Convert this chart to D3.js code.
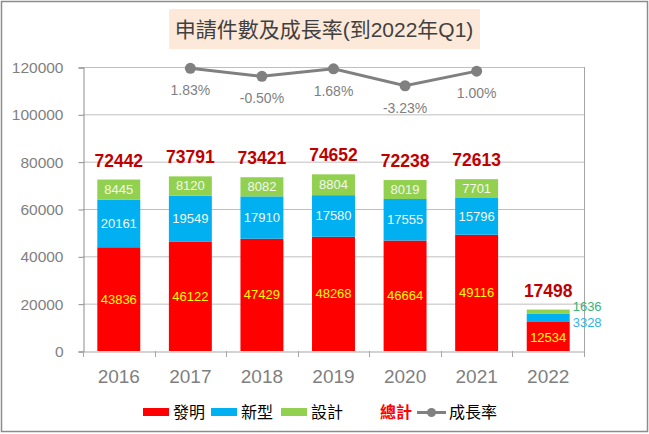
<!DOCTYPE html>
<html>
<head>
<meta charset="utf-8">
<script src="https://cdn.jsdelivr.net/npm/d3@7"></script>
<style>
  body { margin: 0; background: #fff; }
  text { font-family: "Liberation Sans", Arial, "Noto Sans CJK TC", sans-serif; }
  .cjk { font-family: "Liberation Sans", "Noto Sans CJK TC", sans-serif; }
</style>
</head>
<body>
<div id="chart"></div>
<script>
// chart values
const years = ["2016", "2017", "2018", "2019", "2020", "2021", "2022"];
const invention = [43836, 46122, 47429, 48268, 46664, 49116, 12534];   // 發明
const utility = [20161, 19549, 17910, 17580, 17555, 15796, 3328];       // 新型
const design = [8445, 8120, 8082, 8804, 8019, 7701, 1636];              // 設計
const totals = [72442, 73791, 73421, 74652, 72238, 72613, 17498];       // 總計
const growthYears = ["2017", "2018", "2019", "2020", "2021"];
const growth = [1.83, -0.50, 1.68, -3.23, 1.00];                        // 成長率 (%)
const yTicks = [0, 20000, 40000, 60000, 80000, 100000, 120000];

const w = 649, h = 434;
const margin = { top: 67, right: 65, bottom: 83, left: 83 };

const svg = d3.select("#chart")
    .append("svg")
    .attr("width", w)
    .attr("height", h);

// outer frame
svg.append("rect")
    .attr("x", 1.5).attr("y", 1.5)
    .attr("width", w - 3).attr("height", h - 4)
    .attr("fill", "#fff")
    .attr("stroke", "#8c8c8c")
    .attr("stroke-width", 1.5);

// title
svg.append("rect")
    .attr("x", 169).attr("y", 9)
    .attr("width", 311).attr("height", 40)
    .attr("fill", "#fde9d9");

svg.append("text")
    .attr("x", 324).attr("y", 37)
    .attr("text-anchor", "middle")
    .attr("class", "cjk")
    .style("font-size", "21px")
    .attr("fill", "#404040")
    .text("申請件數及成長率(到2022年Q1)");

// scales
const x = d3.scaleBand()
    .domain(years)
    .range([margin.left, w - margin.right])
    .paddingInner(0.4)
    .paddingOuter(0.2);

const y = d3.scaleLinear()
    .domain([0, 120000])
    .range([h - margin.bottom, margin.top]);

// hidden secondary axis for the growth rate
const y2 = d3.scaleLinear()
    .domain([-80, 2.2])
    .range([h - margin.bottom, margin.top]);

// gridlines
svg.append("g")
    .selectAll("line")
    .data(yTicks.filter(d => d > 0))
    .join("line")
    .attr("x1", margin.left).attr("x2", w - margin.right)
    .attr("y1", d => y(d) + 0.5).attr("y2", d => y(d) + 0.5)
    .attr("stroke", "#bfbfbf");

// right border of plot area
svg.append("line")
    .attr("x1", w - margin.right + 0.5).attr("x2", w - margin.right + 0.5)
    .attr("y1", margin.top).attr("y2", h - margin.bottom + 6)
    .attr("stroke", "#a6a6a6");

// y axis
const yAxis = d3.axisLeft(y)
    .tickValues(yTicks)
    .tickSize(5)
    .tickPadding(15)
    .tickFormat(d3.format("d"));

const gy = svg.append("g")
    .attr("transform", `translate(${margin.left + 0.5}, 0.5)`)
    .call(yAxis);
gy.select(".domain").attr("stroke", "#8c8c8c");
gy.selectAll(".tick line").attr("stroke", "#8c8c8c");
gy.selectAll("text")
    .style("font-size", "15.5px")
    .attr("fill", "#7f7f7f");

// x axis
const gx = svg.append("g")
    .attr("transform", `translate(0, ${h - margin.bottom + 0.5})`)
    .call(d3.axisBottom(x).tickSize(0).tickPadding(18));
gx.select(".domain").attr("stroke", "#a6a6a6");
gx.selectAll("text")
    .style("font-size", "19px")
    .attr("fill", "#7f7f7f");

// category boundary ticks
const gap = (x.step() - x.bandwidth()) / 2;
const bounds = years.map(d => x(d) - gap).concat([x(years[years.length - 1]) + x.bandwidth() + gap]);
svg.append("g")
    .selectAll("line")
    .data(bounds)
    .join("line")
    .attr("x1", d => Math.round(d) + 0.5).attr("x2", d => Math.round(d) + 0.5)
    .attr("y1", h - margin.bottom).attr("y2", h - margin.bottom + 6)
    .attr("stroke", "#a6a6a6");

// stacked bars
const rows = years.map((d, i) => ({ year: d, invention: invention[i], utility: utility[i], design: design[i] }));
const keys = ["invention", "utility", "design"];
const colors = { invention: "#ff0000", utility: "#00b0f0", design: "#92d050" };
const stack = d3.stack().keys(keys)(rows);

svg.append("g")
    .selectAll("g")
    .data(stack)
    .join("g")
    .attr("fill", s => colors[s.key])
    .selectAll("rect")
    .data(s => s)
    .join("rect")
    .attr("x", d => x(d.data.year))
    .attr("width", x.bandwidth())
    .attr("y", d => y(d[1]))
    .attr("height", d => y(d[0]) - y(d[1]));

// segment labels (2022 small segments are labelled beside the bar)
const labelColors = { invention: "#ffff00", utility: "#f4f7f0", design: "#f4f7f0" };
const last = years.length - 1;
stack.forEach(s => {
    const beside = i => i === last && s.key !== "invention";
    svg.append("g")
        .selectAll("text")
        .data(s)
        .join("text")
        .attr("x", (d, i) => beside(i)
            ? x(d.data.year) + x.bandwidth() + 3
            : x(d.data.year) + x.bandwidth() / 2)
        .attr("y", (d, i) => {
            const mid = (y(d[0]) + y(d[1])) / 2;
            if (i === last && s.key === "design") return mid - 1;
            if (i === last && s.key === "utility") return mid + 10;
            if (i === last) return mid + 6;
            return mid + 4.5;
        })
        .attr("text-anchor", (d, i) => beside(i) ? "start" : "middle")
        .style("font-size", "13px")
        .attr("fill", (d, i) => {
            if (i === last && s.key === "design") return "#3cb371";
            if (i === last && s.key === "utility") return "#2fb4ea";
            return labelColors[s.key];
        })
        .text(d => d.data[s.key]);
});

// totals
svg.append("g")
    .selectAll("text")
    .data(totals)
    .join("text")
    .attr("x", (d, i) => x(years[i]) + x.bandwidth() / 2)
    .attr("y", d => y(d) - 13)
    .attr("text-anchor", "middle")
    .style("font-size", "17.5px")
    .style("font-weight", "bold")
    .attr("fill", "#c00000")
    .text(d => d);

// growth line
const line = d3.line()
    .x((d, i) => x(growthYears[i]) + x.bandwidth() / 2)
    .y(d => y2(d));

svg.append("path")
    .datum(growth)
    .attr("fill", "none")
    .attr("stroke", "#808080")
    .attr("stroke-width", 3)
    .attr("d", line);

svg.append("g")
    .selectAll("circle")
    .data(growth)
    .join("circle")
    .attr("cx", (d, i) => x(growthYears[i]) + x.bandwidth() / 2)
    .attr("cy", d => y2(d))
    .attr("r", 5.5)
    .attr("fill", "#808080");

svg.append("g")
    .selectAll("text")
    .data(growth)
    .join("text")
    .attr("x", (d, i) => x(growthYears[i]) + x.bandwidth() / 2)
    .attr("y", d => y2(d) + 27)
    .attr("text-anchor", "middle")
    .style("font-size", "14px")
    .attr("fill", "#7f7f7f")
    .text(d => d.toFixed(2) + "%");   // plain hyphen minus, like the original

// legend
const legend = svg.append("g").attr("class", "cjk");
const legendItems = [
    { label: "發明", color: colors.invention, x: 143 },
    { label: "新型", color: colors.utility, x: 211 },
    { label: "設計", color: colors.design, x: 281 }
];
legendItems.forEach(it => {
    legend.append("rect")
        .attr("x", it.x).attr("y", 408)
        .attr("width", 26).attr("height", 8)
        .attr("fill", it.color);
    legend.append("text")
        .attr("x", it.x + 30).attr("y", 418)
        .style("font-size", "16px")
        .attr("fill", "#000")
        .text(it.label);
});
legend.append("text")
    .attr("x", 380).attr("y", 418)
    .style("font-size", "16px")
    .style("font-weight", "bold")
    .attr("fill", "#ff0000")
    .text("總計");
legend.append("line")
    .attr("x1", 417).attr("x2", 446)
    .attr("y1", 412.5).attr("y2", 412.5)
    .attr("stroke", "#808080")
    .attr("stroke-width", 3);
legend.append("circle")
    .attr("cx", 431.5).attr("cy", 412.5)
    .attr("r", 4.5)
    .attr("fill", "#808080");
legend.append("text")
    .attr("x", 449).attr("y", 418)
    .style("font-size", "16px")
    .attr("fill", "#000")
    .text("成長率");
</script>
</body>
</html>
